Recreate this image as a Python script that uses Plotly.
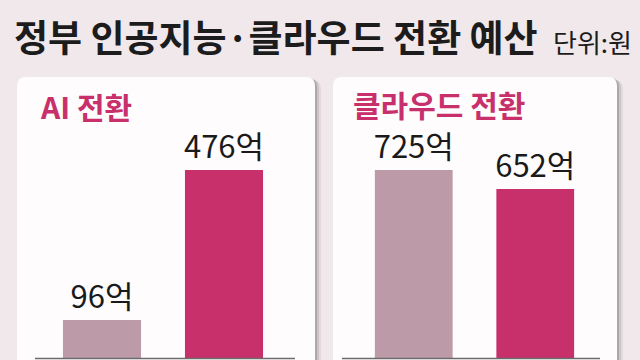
import plotly.graph_objects as go

# Data
categories = ["이전", "이후"]
ai_values = [96, 476]
cloud_values = [725, 652]
panel_titles = ["AI 전환", "클라우드 전환"]
title_text = "정부 인공지능·클라우드 전환 예산"
unit_text = "단위:원"

W, H = 640, 360
BG = "#f0e8eb"
GRAY_BAR = "#bd9aa8"
PINK = "#c8306b"
KR = "Noto Sans CJK KR"

def px(x):
    return x / W

def py(y):
    return 1 - y / H

fig = go.Figure()

label_font = dict(family=KR, size=31, color="#1a1a1a")
for xa, ya, vals in [("x", "y", ai_values), ("x2", "y2", cloud_values)]:
    fig.add_trace(go.Bar(
        x=categories, y=vals, xaxis=xa, yaxis=ya,
        marker=dict(color=[GRAY_BAR, PINK], line=dict(width=0)),
        texttemplate="%{y}억", textposition="outside", cliponaxis=False,
        constraintext="none",
        textfont=label_font, hoverinfo="skip",
    ))

base_px = 358
span = base_px
ai_max = ai_values[1] * span / 188
cl_max = cloud_values[0] * span / 188

shapes = []
def rounded_top(x0, y0, x1, y1, r, color, opacity=1.0):
    path = (f"M {px(x0)},{py(y1)} L {px(x0)},{py(y0 + r)} "
            f"Q {px(x0)},{py(y0)} {px(x0 + r)},{py(y0)} "
            f"L {px(x1 - r)},{py(y0)} Q {px(x1)},{py(y0)} {px(x1)},{py(y0 + r)} "
            f"L {px(x1)},{py(y1)} Z")
    return dict(type="path", path=path, xref="paper", yref="paper",
                fillcolor=color, line=dict(width=0), opacity=opacity, layer="below")

for (x0, x1) in [(17, 315), (333, 617)]:
    for off, op in [(6, 0.10), (4, 0.18), (2, 0.30)]:
        shapes.append(rounded_top(x0 + off, 77 + off // 2, x1 + off, 380, 9, "#6a6266", op))
    shapes.append(rounded_top(x0, 77, x1, 380, 9, "#fefcfd"))

for (x0, x1) in [(35, 295), (342, 600)]:
    shapes.append(dict(type="line", xref="paper", yref="paper",
                       x0=px(x0), x1=px(x1), y0=py(358.5), y1=py(358.5),
                       line=dict(color="#6b6b6b", width=1.5), layer="above"))

annotations = [
    dict(text=f"<b>{title_text}</b>", x=px(12), y=py(36), xref="paper", yref="paper",
         xanchor="left", yanchor="middle", showarrow=False,
         font=dict(family=KR, size=37, color="#1c1c1c")),
    dict(text=unit_text, x=px(634), y=py(41), xref="paper", yref="paper",
         xanchor="right", yanchor="middle", showarrow=False,
         font=dict(family=KR, size=26, color="#1c1c1c")),
    dict(text=f"<b>{panel_titles[0]}</b>", x=px(38), y=py(106), xref="paper", yref="paper",
         xanchor="left", yanchor="middle", showarrow=False,
         font=dict(family=KR, size=30, color=PINK)),
    dict(text=f"<b>{panel_titles[1]}</b>", x=px(351), y=py(104), xref="paper", yref="paper",
         xanchor="left", yanchor="middle", showarrow=False,
         font=dict(family=KR, size=30, color=PINK)),
]

ydom = [1 - base_px / H, 1]
axis_common = dict(showgrid=False, zeroline=False, showticklabels=False, showline=False, fixedrange=True)

fig.update_layout(
    width=W, height=H,
    margin=dict(l=0, r=0, t=0, b=0),
    paper_bgcolor=BG, plot_bgcolor="rgba(0,0,0,0)",
    showlegend=False, bargap=0.36,
    xaxis=dict(domain=[px(41), px(285)], **axis_common),
    xaxis2=dict(domain=[px(353), px(596)], **axis_common),
    yaxis=dict(domain=ydom, range=[0, ai_max], anchor="x", **axis_common),
    yaxis2=dict(domain=ydom, range=[0, cl_max], anchor="x2", **axis_common),
    shapes=shapes, annotations=annotations,
)

fig.write_html("out.html")
